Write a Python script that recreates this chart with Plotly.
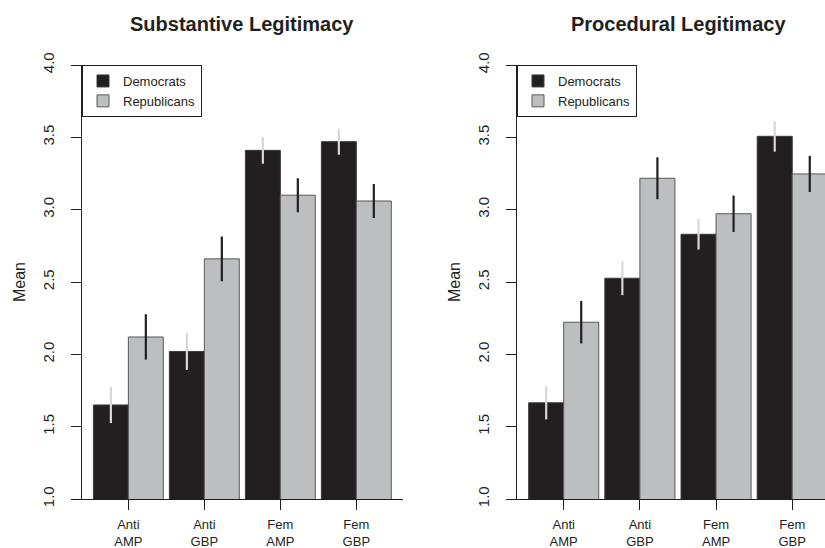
import plotly.graph_objects as go

W, H = 825, 548

# Conditions on the x axis
categories = ["Anti<br>AMP", "Anti<br>GBP", "Fem<br>AMP", "Fem<br>GBP"]

# Substantive legitimacy: group means and error half-widths
subst_dem = [1.65, 2.02, 3.41, 3.47]
subst_dem_err = [0.125, 0.127, 0.092, 0.090]
subst_rep = [2.12, 2.66, 3.10, 3.06]
subst_rep_err = [0.157, 0.155, 0.118, 0.117]

# Procedural legitimacy: group means and error half-widths
proc_dem = [1.665, 2.526, 2.83, 3.507]
proc_dem_err = [0.115, 0.117, 0.106, 0.106]
proc_rep = [2.222, 3.217, 2.972, 3.247]
proc_rep_err = [0.147, 0.145, 0.126, 0.125]

y_ticks = [1.0, 1.5, 2.0, 2.5, 3.0, 3.5, 4.0]

DEM_FILL = "#231f20"
REP_FILL = "#bcbec0"
DEM_ERR = "#d6d7d8"
REP_ERR = "#231f20"
INK = "#231f20"
FONT = "Liberation Sans, Arial, Helvetica, sans-serif"


def px_x(v):
    return v / W


def px_y(v):
    return (H - v) / H


fig = go.Figure()

panels = [
    ("x", "y", "legend", subst_dem, subst_dem_err, subst_rep, subst_rep_err),
    ("x2", "y2", "legend2", proc_dem, proc_dem_err, proc_rep, proc_rep_err),
]

for xa, ya, lg, dem, dem_err, rep, rep_err in panels:
    fig.add_trace(go.Bar(
        x=categories, y=dem, name="Democrats", xaxis=xa, yaxis=ya, legend=lg,
        marker=dict(color=DEM_FILL, line=dict(color="#3a3a3c", width=1)),
        error_y=dict(type="data", array=dem_err, visible=True,
                     color=DEM_ERR, thickness=2.2, width=0),
        offsetgroup="dem",
    ))
    fig.add_trace(go.Bar(
        x=categories, y=rep, name="Republicans", xaxis=xa, yaxis=ya, legend=lg,
        marker=dict(color=REP_FILL, line=dict(color="#58595b", width=1)),
        error_y=dict(type="data", array=rep_err, visible=True,
                     color=REP_ERR, thickness=2.2, width=0),
        offsetgroup="rep",
    ))

xaxis_common = dict(
    type="category", showline=True, linecolor=INK, linewidth=1,
    ticks="outside", ticklen=10, tickcolor=INK, tickwidth=1,
    showgrid=False, zeroline=False, automargin=False,
    ticklabelstandoff=3,
    tickfont=dict(family=FONT, size=13, color=INK),
)
yaxis_common = dict(
    range=[1, 4], tickvals=y_ticks, ticktext=[f"{t:.1f}" for t in y_ticks],
    showline=True, linecolor=INK, linewidth=1,
    ticks="outside", ticklen=10, tickcolor=INK, tickwidth=1,
    tickangle=-90, showgrid=False, zeroline=False, automargin=False,
    ticklabelstandoff=11,
    tickfont=dict(family=FONT, size=15, color=INK),
    domain=[px_y(499), px_y(65)],
)

legend_common = dict(
    xanchor="left", yanchor="top", bordercolor=INK, borderwidth=1,
    bgcolor="white", tracegroupgap=0,
    font=dict(family=FONT, size=13, color=INK),
)

fig.update_layout(
    width=W, height=H,
    margin=dict(l=0, r=0, t=0, b=0),
    paper_bgcolor="white", plot_bgcolor="white",
    barmode="group", bargap=0.08, bargroupgap=0.0,
    font=dict(family=FONT, color=INK),
    xaxis=dict(xaxis_common, domain=[px_x(82), px_x(402.7)], range=[-0.61, 3.61], anchor="y"),
    yaxis=dict(yaxis_common, anchor="x"),
    xaxis2=dict(xaxis_common, domain=[px_x(517), 1.0], range=[-0.613, 3.43], anchor="y2"),
    yaxis2=dict(yaxis_common, anchor="x2"),
    legend=dict(legend_common, x=px_x(82), y=px_y(65)),
    legend2=dict(legend_common, x=px_x(517), y=px_y(65)),
)

# Panel titles and y-axis labels
for cx, title in [(242, "Substantive Legitimacy"), (678, "Procedural Legitimacy")]:
    fig.add_annotation(x=px_x(cx), y=px_y(24), xref="paper", yref="paper",
                       text=f"<b>{title}</b>", showarrow=False,
                       xanchor="center", yanchor="middle",
                       font=dict(family=FONT, size=20, color=INK))
for cx in [19, 454]:
    fig.add_annotation(x=px_x(cx), y=px_y(282), xref="paper", yref="paper",
                       text="Mean", showarrow=False, textangle=-90,
                       xanchor="center", yanchor="middle",
                       font=dict(family=FONT, size=16, color=INK))

fig.write_html("out.html")
